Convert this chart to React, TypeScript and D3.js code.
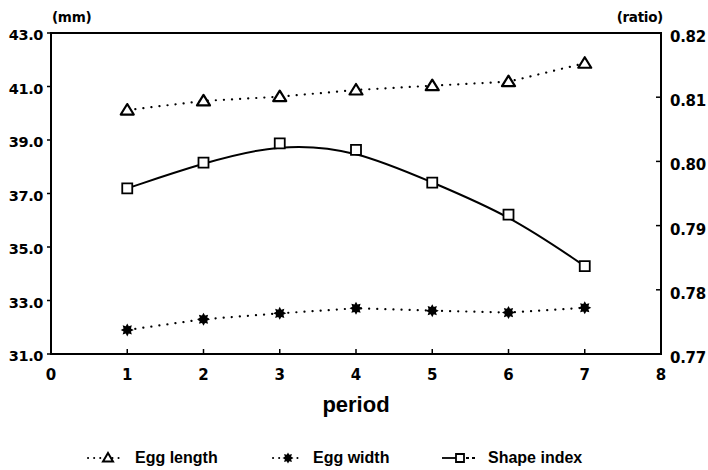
import * as d3 from "d3";

const periods = [1, 2, 3, 4, 5, 6, 7];
const eggLength = [40.12, 40.46, 40.62, 40.87, 41.03, 41.18, 41.87];
const eggWidth = [31.9, 32.3, 32.52, 32.71, 32.62, 32.55, 32.73];
const shapeIndex = [0.7958, 0.7998, 0.8028, 0.8018, 0.7967, 0.7917, 0.7837];

const mmTicks = [31, 33, 35, 37, 39, 41, 43];
const ratioTicks = [0.77, 0.78, 0.79, 0.8, 0.81, 0.82];
const xTicks = [0, 1, 2, 3, 4, 5, 6, 7, 8];

const W = 708;
const H = 470;
const m = { top: 33, right: 47, bottom: 116, left: 51 };
const pw = W - m.left - m.right;
const ph = H - m.top - m.bottom;

const sans = "'Liberation Sans', Arial, sans-serif";
const wide = "'DejaVu Sans', sans-serif";

const x = d3.scaleLinear().domain([0, 8]).range([0, pw]);
const yL = d3.scaleLinear().domain([31, 43]).range([ph, 0]);
const yR = d3.scaleLinear().domain([0.77, 0.82]).range([ph, 0]);

const triPath = "M0,-6L6.5,4.5L-6.5,4.5Z";
const sqPath = "M-5,-5H5V5H-5Z";

// filled burst used for the egg width markers
function starPath(r1: number, r2: number, n: number) {
  const pts: [number, number][] = [];
  for (let i = 0; i < n * 2; i++) {
    const a = (Math.PI * i) / n;
    const r = i % 2 === 0 ? r1 : r2;
    pts.push([Math.sin(a) * r, -Math.cos(a) * r]);
  }
  return "M" + pts.map((p) => p.join(",")).join("L") + "Z";
}
const burst = starPath(6.5, 4, 8);

function Tri({ cx, cy }: { cx: number; cy: number }) {
  return (
    <path d={triPath} transform={`translate(${cx},${cy})`} fill="white" stroke="black" strokeWidth={2.2} strokeLinejoin="round" />
  );
}
function Sq({ cx, cy }: { cx: number; cy: number }) {
  return (
    <path d={sqPath} transform={`translate(${cx},${cy})`} fill="white" stroke="black" strokeWidth={1.8} />
  );
}
function Star({ cx, cy }: { cx: number; cy: number }) {
  return <path d={burst} transform={`translate(${cx},${cy})`} fill="black" />;
}

export default function App() {
  const lenLine = d3.line<number>().x((_, i) => x(periods[i])).y((d) => yL(d))(eggLength) ?? "";
  const widLine = d3.line<number>().x((_, i) => x(periods[i])).y((d) => yL(d))(eggWidth) ?? "";
  const shapeLine =
    d3
      .line<number>()
      .x((_, i) => x(periods[i]))
      .y((d) => yR(d))
      .curve(d3.curveBasis)(shapeIndex) ?? "";

  const dotted = { fill: "none", stroke: "black", strokeWidth: 2.2, strokeDasharray: "0.1,8", strokeLinecap: "round" as const };

  return (
    <svg width={W} height={H} style={{ position: "absolute", left: 0, top: 0 }} fontFamily={sans}>
      <rect width={W} height={H} fill="white" />
      <g transform={`translate(${m.left},${m.top})`}>
        <rect width={pw} height={ph} fill="none" stroke="black" strokeWidth={2} />

        {/* left axis (mm) */}
        {mmTicks.map((t) => (
          <g key={t} transform={`translate(0,${yL(t)})`}>
            <line x1={-4} x2={0} stroke="black" strokeWidth={1.5} />
            <text x={-8} y={7} textAnchor="end" fontFamily={wide} fontSize={14.5} fontWeight="bold" letterSpacing={-0.4}>
              {t.toFixed(1)}
            </text>
          </g>
        ))}
        {/* right axis (ratio) */}
        {ratioTicks.map((t) => (
          <g key={t} transform={`translate(${pw},${yR(t)})`}>
            <line x1={-5} x2={0} stroke="black" strokeWidth={1.5} />
            <text x={9} y={9} textAnchor="start" fontFamily={wide} fontSize={15} fontWeight="bold" letterSpacing={-0.3}>
              {t.toFixed(2)}
            </text>
          </g>
        ))}
        {/* bottom axis */}
        {xTicks.map((t) => (
          <g key={t} transform={`translate(${x(t)},${ph})`}>
            <line y1={-5} y2={0} stroke="black" strokeWidth={1.5} />
            <text y={26} textAnchor="middle" fontFamily={wide} fontSize={15} fontWeight="bold">
              {t}
            </text>
          </g>
        ))}

        <text x={1} y={-11} fontFamily={wide} fontSize={13.5} fontWeight="bold" letterSpacing={-0.3}>
          (mm)
        </text>
        <text x={pw + 2} y={-11} textAnchor="end" fontFamily={wide} fontSize={13.5} fontWeight="bold" letterSpacing={-0.3}>
          (ratio)
        </text>
        <text x={x(4)} y={ph + 58} textAnchor="middle" fontSize={22} fontWeight="bold">
          period
        </text>

        <path d={lenLine} {...dotted} />
        <path d={widLine} {...dotted} />
        <path d={shapeLine} fill="none" stroke="black" strokeWidth={2} />

        {eggLength.map((v, i) => (
          <Tri key={"l" + i} cx={x(periods[i])} cy={yL(v)} />
        ))}
        {eggWidth.map((v, i) => (
          <Star key={"w" + i} cx={x(periods[i])} cy={yL(v)} />
        ))}
        {shapeIndex.map((v, i) => (
          <Sq key={"s" + i} cx={x(periods[i])} cy={yR(v)} />
        ))}
      </g>

      {/* legend */}
      <g transform="translate(0,458)" fontSize={16} fontWeight="bold">
        <line x1={88} x2={123} {...dotted} strokeDasharray="0.1,6" strokeWidth={2} />
        <path d="M0,-5L5,3.5L-5,3.5Z" transform="translate(108,0)" fill="white" stroke="black" strokeWidth={2} />
        <text x={135} y={5}>Egg length</text>

        <line x1={273} x2={302} {...dotted} strokeDasharray="0.1,6" strokeWidth={2} />
        <path d={starPath(5.5, 3.4, 8)} transform="translate(288,0)" fill="black" />
        <text x={313} y={5}>Egg width</text>

        <line x1={442} x2={456} stroke="black" strokeWidth={1.8} />
        <line x1={466} x2={478} stroke="black" strokeWidth={1.8} strokeDasharray="3,3" />
        <path d="M-4,-4H4V4H-4Z" transform="translate(460,0)" fill="white" stroke="black" strokeWidth={1.8} />
        <text x={488} y={5}>Shape index</text>
      </g>
    </svg>
  );
}
